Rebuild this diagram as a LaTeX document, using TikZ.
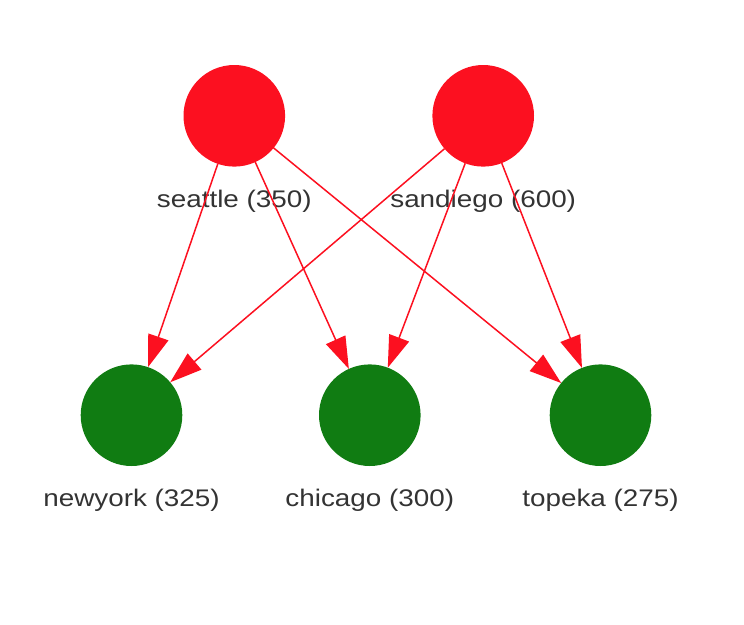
\documentclass[tikz,border=0pt]{standalone}
\usepackage{fontspec}
\setmainfont{Liberation Sans}[FakeStretch=1.16]
\usetikzlibrary{arrows.meta}
\definecolor{supplyred}{RGB}{252,16,32}
\definecolor{demandgreen}{RGB}{16,124,18}
\definecolor{labelgray}{RGB}{51,51,51}
\begin{document}
\begin{tikzpicture}[x=1pt,y=-1pt,
  supply/.style={circle,fill=supplyred,minimum size=101.6pt,inner sep=0pt,outer sep=0pt},
  demand/.style={circle,fill=demandgreen,minimum size=101.6pt,inner sep=0pt,outer sep=0pt},
  lbl/.style={anchor=base,inner sep=0pt,text=labelgray,font=\fontsize{24}{28}\selectfont},
  flow/.style={draw=supplyred,line width=1.5pt,-{Triangle[length=32pt,width=21pt]}}]
\useasboundingbox (0,0) rectangle (744,624);
\node[supply] (seattle) at (234.3,115.8) {};
\node[supply] (sandiego) at (483.2,115.8) {};
\node[demand] (newyork) at (131.5,415.2) {};
\node[demand] (chicago) at (369.8,415.2) {};
\node[demand] (topeka) at (600.5,415.2) {};
\node[lbl] (seattlelbl) at (234.3,207.3) {seattle (350)};
\node[lbl] (sandiegolbl) at (483.2,207.3) {sandiego (600)};
\node[lbl] (newyorklbl) at (131.5,506.7) {newyork (325)};
\node[lbl] (chicagolbl) at (369.8,506.7) {chicago (300)};
\node[lbl] (topekalbl) at (600.5,506.7) {topeka (275)};
\foreach \src in {seattle,sandiego}
  \foreach \dst in {newyork,chicago,topeka}
    \draw[flow] (\src) -- (\dst);
\end{tikzpicture}
\end{document}
